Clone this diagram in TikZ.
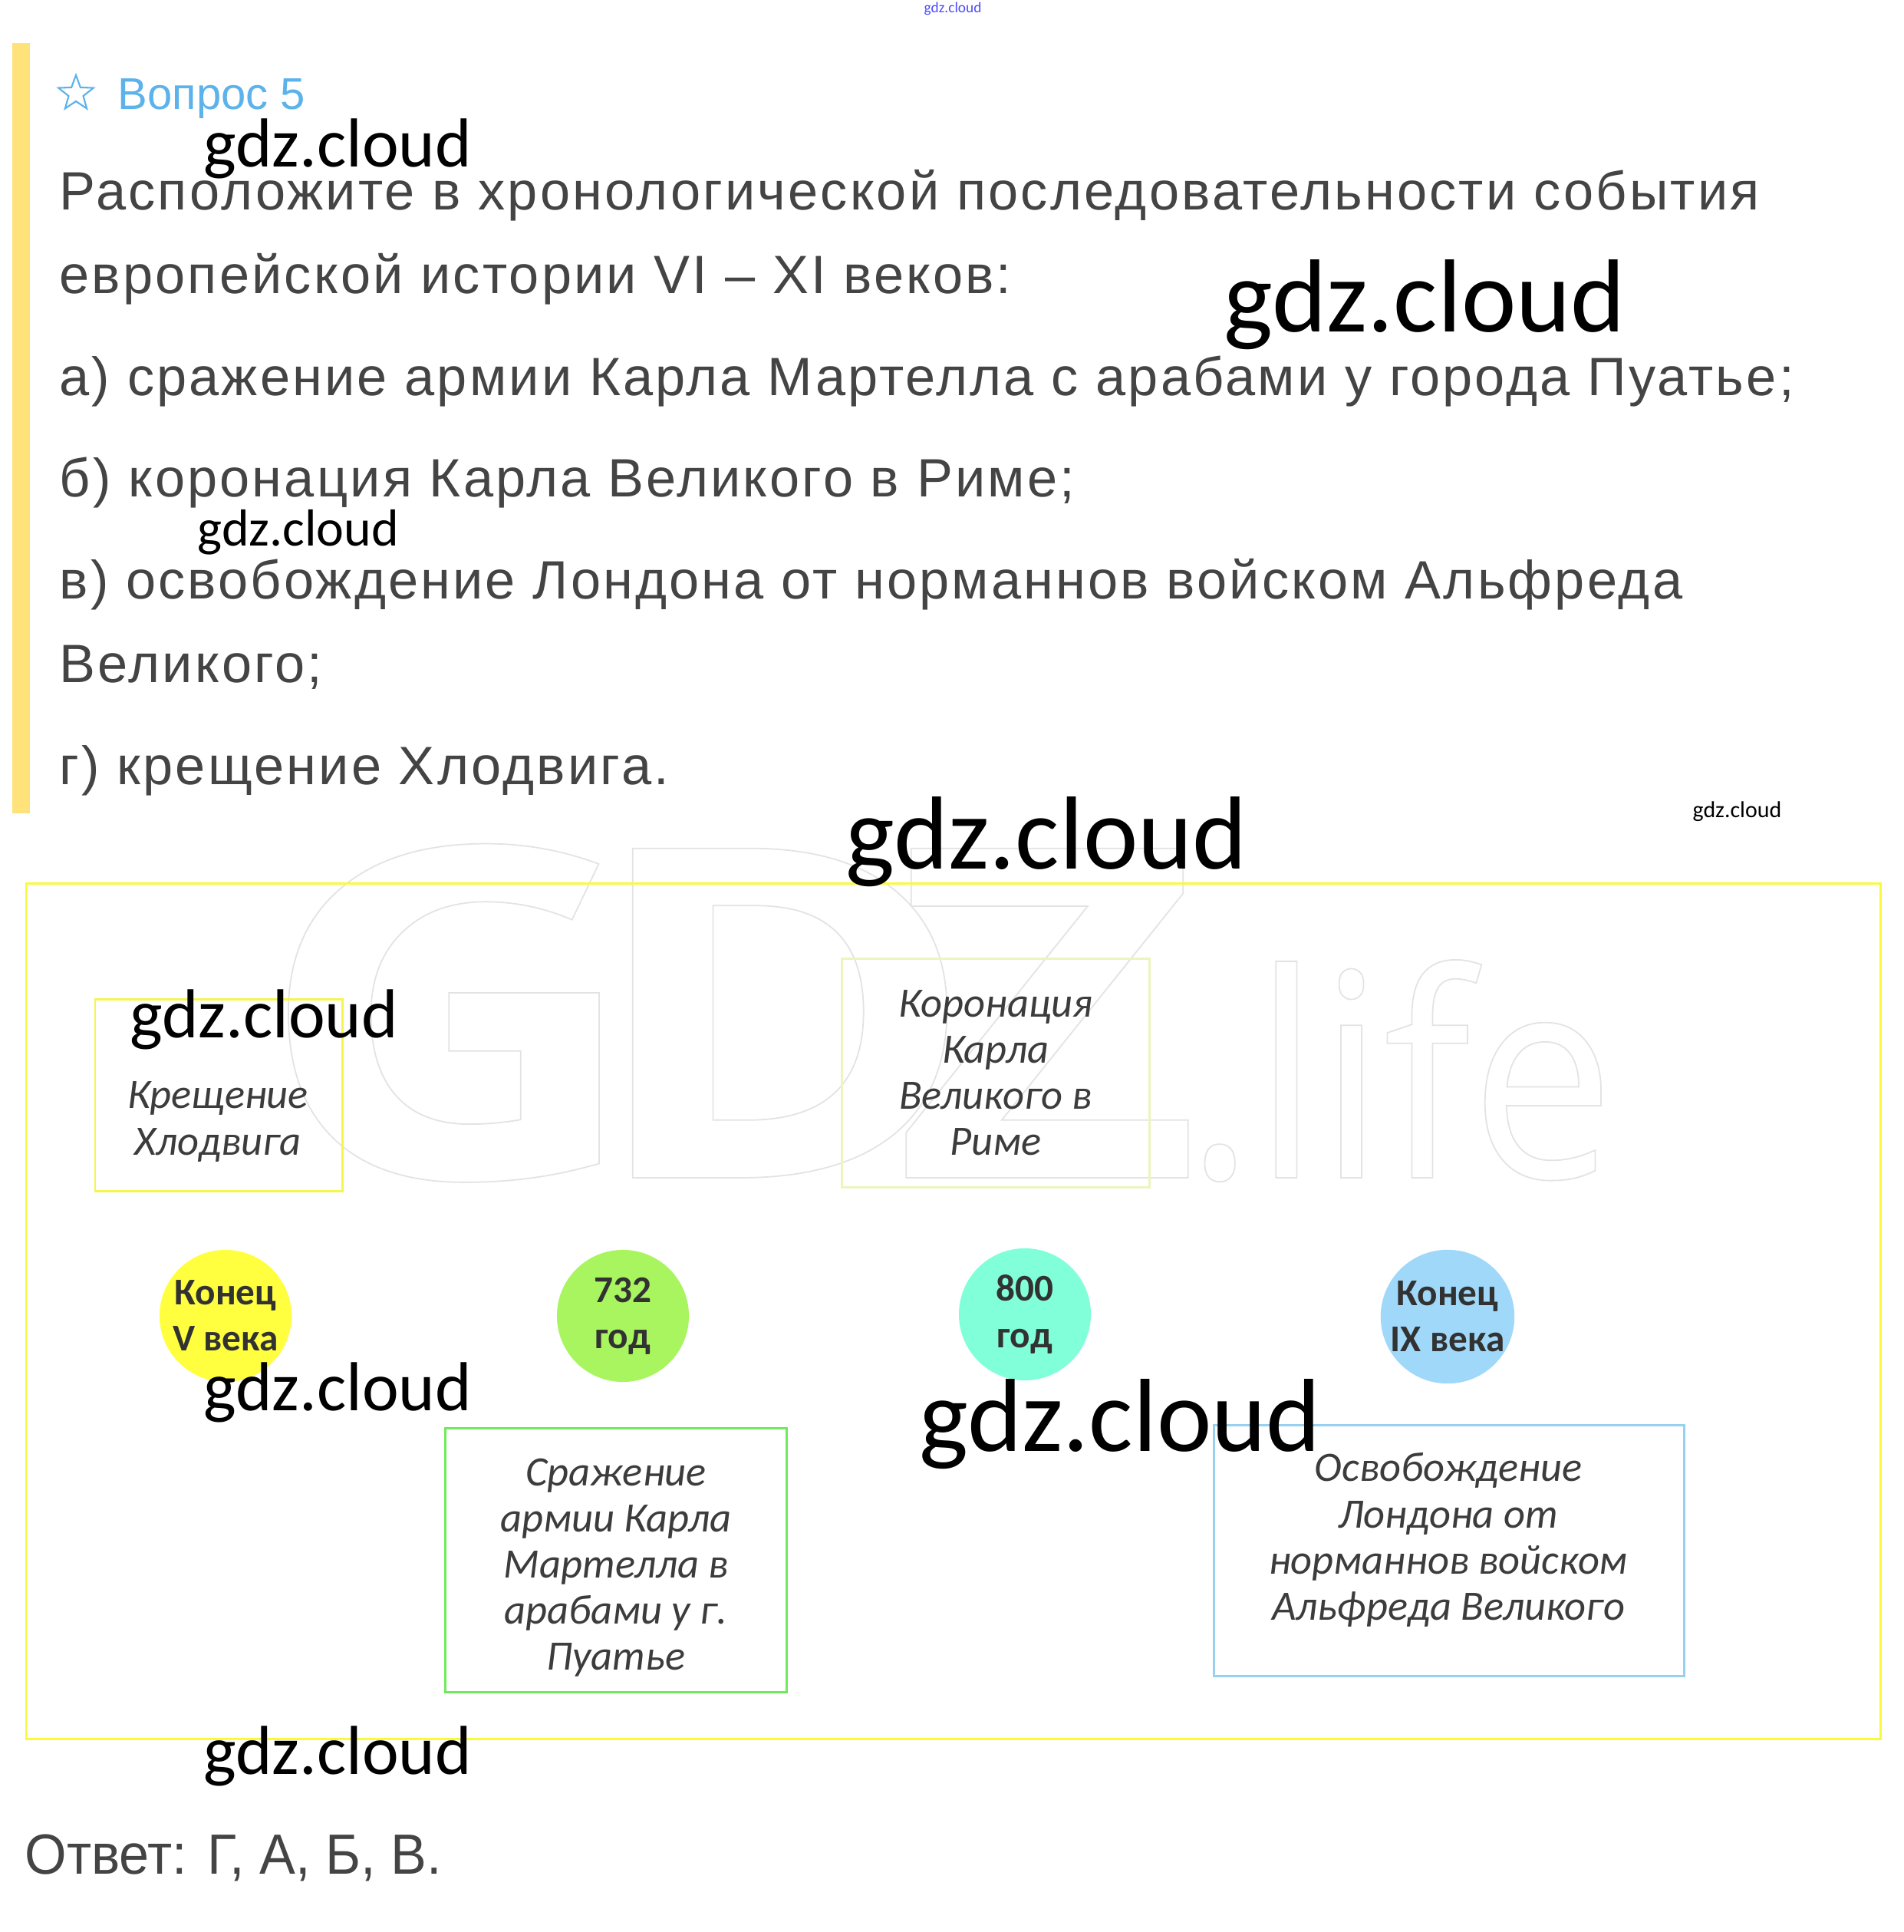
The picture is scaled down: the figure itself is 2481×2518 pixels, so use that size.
\documentclass[tikz,border=0pt]{standalone}
\usepackage{fontspec}
\setmainfont{Liberation Sans}
\newfontfamily\bodyfont[LetterSpace=4.5]{Liberation Sans}
\newfontfamily\answerfont[FakeStretch=0.95]{Liberation Sans}
\newfontfamily\calibri{Carlito}
\newfontfamily\gdzbold[FakeStretch=1.15]{Open Sans Bold}
\newfontfamily\gdzlight[FakeStretch=0.9]{Open Sans}
\usepackage{tikz}
\usetikzlibrary{shapes.geometric}
\definecolor{textgray}{RGB}{68,68,68}
\definecolor{evgray}{RGB}{60,60,60}
\definecolor{dotgray}{RGB}{50,50,50}
\definecolor{qblue}{RGB}{92,178,234}
\definecolor{barA}{RGB}{255,226,122}
\definecolor{frameA}{RGB}{250,250,60}
\definecolor{boxA}{RGB}{245,245,80}
\definecolor{boxB}{RGB}{235,245,190}
\definecolor{boxC}{RGB}{110,235,90}
\definecolor{boxD}{RGB}{150,210,240}
\definecolor{dotA}{RGB}{255,255,64}
\definecolor{dotB}{RGB}{168,245,96}
\definecolor{dotC}{RGB}{128,255,216}
\definecolor{dotD}{RGB}{160,216,250}
\newcommand{\outlinetext}[1]{\special{pdf:literal direct 1 Tr 0.5 w}#1\special{pdf:literal direct 0 Tr}}

\begin{document}
\begin{tikzpicture}[x=0.01cm, y=-0.01cm,
  qline/.style={anchor=base west, inner sep=0, text=textgray, font=\bodyfont\fontsize{20}{24}\selectfont},
  wmark/.style={anchor=base west, inner sep=0, text=black},
  bigmark/.style={anchor=base west, inner sep=0, text=gray!22},
  evtext/.style={align=center, inner sep=0, text=evgray, font=\calibri\itshape\fontsize{15.5}{17.1}\selectfont},
  datedot/.style={circle, minimum size=1.72cm, inner sep=0, align=center, text=dotgray,
    font=\calibri\bfseries\fontsize{14}{17.1}\selectfont}]
  \useasboundingbox (0,0) rectangle (2481,2518);
  \fill[white] (0,0) rectangle (2481,2518);

  \node[bigmark, font=\gdzbold\fontsize{171}{171}\selectfont] (bigG) at (335,1535) {\outlinetext{G}};
  \node[bigmark, font=\gdzbold\fontsize{171}{171}\selectfont] (bigD) at (762,1535) {\outlinetext{D}};
  \node[bigmark, font=\gdzbold\fontsize{171}{171}\selectfont] (bigZ) at (1164,1535) {\outlinetext{Z}};
  \node[bigmark, font=\gdzlight\fontsize{105.6}{106}\selectfont] (bigL) at (1545,1535) {\outlinetext{.life}};

  \fill[barA] (16,56) rectangle (39,1060);
  \node[star, star points=5, star point ratio=2.4, draw=qblue, line width=0.6pt,
        minimum size=0.48cm, inner sep=0] (qstar) at (99,122) {};
  \node[anchor=base west, inner sep=0, text=qblue, font=\fontsize{16.5}{20}\selectfont]
       (qtitle) at (153,142) {Вопрос 5};

  \node[qline] (q1) at (77,273) {Расположите в хронологической последовательности события};
  \node[qline] (q2) at (77,382) {европейской истории VI – XI веков:};
  \node[qline] (q3) at (77,515) {а) сражение армии Карла Мартелла с арабами у города Пуатье;};
  \node[qline] (q4) at (77,647) {б) коронация Карла Великого в Риме;};
  \node[qline] (q5) at (77,780) {в) освобождение Лондона от норманнов войском Альфреда};
  \node[qline] (q6) at (77,889) {Великого;};
  \node[qline] (q7) at (77,1022) {г) крещение Хлодвига.};

  \draw[frameA, line width=0.85pt] (34,1151) rectangle (2451,2266);
  \draw[boxA, line width=0.85pt] (124,1302) rectangle (446,1552);
  \draw[boxB, line width=0.85pt] (1097,1249) rectangle (1498,1547);
  \draw[boxC, line width=0.85pt] (580,1861) rectangle (1025,2205);
  \draw[boxD, line width=0.85pt] (1582,1857) rectangle (2195,2184);

  \node[evtext] (ev1) at (284,1462) {Крещение\\Хлодвига};
  \node[evtext] (ev2) at (1298,1398) {Коронация\\Карла\\Великого в\\Риме};
  \node[evtext] (ev3) at (803,2043) {Сражение\\армии Карла\\Мартелла в\\арабами у г.\\Пуатье};
  \node[evtext] (ev4) at (1888,2007) {Освобождение\\Лондона от\\норманнов войском\\Альфреда Великого};

  \node[datedot, fill=dotA] (d1) at (294,1715) {Конец\\V века};
  \node[datedot, fill=dotB] (d2) at (812,1715) {732\\год};
  \node[datedot, fill=dotC] (d3) at (1336,1713) {800\\год};
  \node[datedot, fill=dotD] (d4) at (1887,1716) {Конец\\IX века};

  \node[anchor=base west, inner sep=0, text=textgray, font=\answerfont\fontsize{21}{24}\selectfont]
       (answer) at (32,2442) {Ответ: Г, А, Б, В.};

  \node[wmark, text=blue!70, font=\calibri\fontsize{5.5}{6}\selectfont] (wm0) at (1204,16) {gdz.cloud};
  \node[wmark, font=\calibri\fontsize{25.7}{28}\selectfont] (wm1) at (265,217) {gdz.cloud};
  \node[wmark, font=\calibri\fontsize{38.5}{42}\selectfont] (wm2) at (1595,432) {gdz.cloud};
  \node[wmark, font=\calibri\fontsize{19.3}{22}\selectfont] (wm3) at (257,711) {gdz.cloud};
  \node[wmark, font=\calibri\fontsize{8.5}{10}\selectfont] (wm4) at (2206,1065) {gdz.cloud};
  \node[wmark, font=\calibri\fontsize{38.5}{42}\selectfont] (wm5) at (1102,1132) {gdz.cloud};
  \node[wmark, font=\calibri\fontsize{25.7}{28}\selectfont] (wm6) at (169,1352) {gdz.cloud};
  \node[wmark, font=\calibri\fontsize{25.7}{28}\selectfont] (wm7) at (265,1838) {gdz.cloud};
  \node[wmark, font=\calibri\fontsize{38.5}{42}\selectfont] (wm8) at (1198,1891) {gdz.cloud};
  \node[wmark, font=\calibri\fontsize{25.7}{28}\selectfont] (wm9) at (265,2312) {gdz.cloud};
\end{tikzpicture}
\end{document}
